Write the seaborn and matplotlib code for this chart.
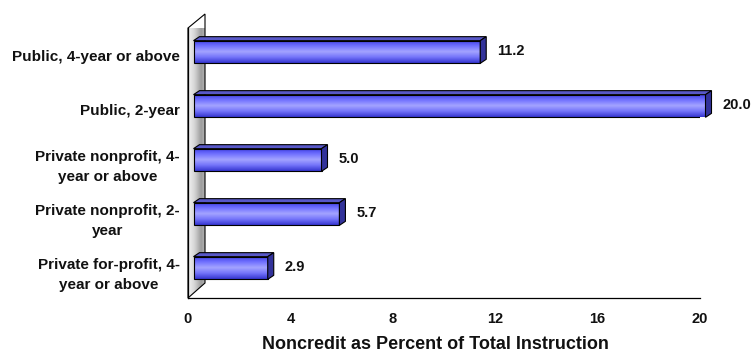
import numpy as np
import pandas as pd
import matplotlib
matplotlib.use("Agg")
import matplotlib.pyplot as plt
import matplotlib.transforms as mtransforms
from matplotlib.colors import LinearSegmentedColormap
from matplotlib.patches import Polygon
import seaborn as sns

categories = ["Public, 4-year or above", "Public, 2-year",
              "Private nonprofit, 4-\nyear or above", "Private nonprofit, 2-\nyear",
              "Private for-profit, 4-\nyear or above"]
values = [11.2, 20.0, 5.0, 5.7, 2.9]
value_labels = ["11.2", "20.0", "5.0", "5.7", "2.9"]
xticks = [0, 4, 8, 12, 16, 20]

sns.set_style("white")
plt.rcParams['font.family'] = ['Liberation Sans', 'DejaVu Sans']

df = pd.DataFrame({'category': categories, 'value': values})

fig = plt.figure(figsize=(7.54, 3.53), dpi=100)
ax = fig.add_axes([188 / 754, 1 - 298 / 353, 512 / 754, 270 / 353])
sns.barplot(data=df, x='value', y='category', orient='h', width=0.42,
            color='#6666ff', edgecolor='black', linewidth=0.8, ax=ax, zorder=3)
ax.set_xlim(0, 20)
ax.set_ylim(4.5, -0.5)

# 3d look: front face shifted, top and side faces added
dx0, dy0 = 5.5, 3
ddx, ddy = 6, 4
tr_front = mtransforms.offset_copy(ax.transData, fig=fig, x=dx0, y=dy0, units='dots')
face_cmap = LinearSegmentedColormap.from_list('face', ['#4040e6', '#7070ff', '#a4a4ff', '#7474fa', '#3636d0'])
grad = np.linspace(0, 1, 64).reshape(-1, 1)
fig.canvas.draw()
for p in ax.patches:
    p.set_transform(tr_front)
    p.set_facecolor('none')
    x0, y0, w, h = p.get_x(), p.get_y(), p.get_width(), p.get_height()
    im = ax.imshow(grad, extent=[x0, x0 + w, y0 + h, y0], transform=tr_front,
                   cmap=face_cmap, aspect='auto', zorder=2, interpolation='bilinear')
    im.set_clip_path(p)
    # corners in display coords
    (xl, yb) = tr_front.transform((x0, y0 + h))
    (xr, yt) = tr_front.transform((x0 + w, y0))
    top = [(xl, yt), (xr, yt), (xr + ddx, yt + ddy), (xl + ddx, yt + ddy)]
    side = [(xr, yt), (xr + ddx, yt + ddy), (xr + ddx, yb + ddy), (xr, yb)]
    for pts, col in [(top, '#5858c8'), (side, '#32329a')]:
        ax.add_patch(Polygon(pts, closed=True, transform=mtransforms.IdentityTransform(),
                             facecolor=col, edgecolor='black', linewidth=0.8,
                             zorder=3, clip_on=False))
ax.set_xlim(0, 20)
ax.set_ylim(4.5, -0.5)

# side wall
wall_tr = mtransforms.IdentityTransform()
(wx0, wy0) = ax.transAxes.transform((0, 0))
(wx1, wy1) = ax.transAxes.transform((0, 1))
wd, wh = 17, 15
wall = Polygon([(wx0, wy0), (wx0 + wd, wy0 + wh), (wx1 + wd, wy1 + 14), (wx1, wy1)],
               closed=True, transform=wall_tr, facecolor='none', edgecolor='black',
               linewidth=0.8, zorder=1, clip_on=False)
ax.add_patch(wall)
wall_cmap = LinearSegmentedColormap.from_list('wall', ['#f2f2f2', '#d4d4d4', '#9c9c9c', '#c4c4c4'])
wim = ax.imshow(np.linspace(0, 1, 32).reshape(1, -1), extent=[0, 0.75, 4.5, -0.6],
                cmap=wall_cmap, aspect='auto', zorder=0.5, interpolation='bilinear')
wim.set_clip_path(wall)
wim.set_clip_on(True)
ax.set_xlim(0, 20)
ax.set_ylim(4.5, -0.5)

for i, (v, lab) in enumerate(zip(values, value_labels)):
    ax.annotate(lab, (v, i), xytext=(dx0 + ddx + 11, 4), textcoords='offset pixels',
                va='center', ha='left', fontsize=10.5, fontweight='bold', color='#111111')

sns.despine(ax=ax, top=True, right=True)
for s in ['left', 'bottom']:
    ax.spines[s].set_color('black')
    ax.spines[s].set_linewidth(0.9)
ax.set_xticks(xticks)
ax.set_xticklabels([str(t) for t in xticks], fontsize=10.5, fontweight='bold', color='#111111')
ax.tick_params(axis='x', direction='out', length=4, width=0.9, color='black', pad=6)
ax.set_yticks(range(len(categories)))
ax.set_yticklabels(categories, fontsize=11, fontweight='bold', color='#111111',
                   ha='right', multialignment='center', linespacing=1.5)
ax.tick_params(axis='y', which='major', length=0, pad=6)
ax.set_yticks(np.arange(-0.5, 5, 1), minor=True)
ax.tick_params(axis='y', which='minor', direction='out', length=4, width=0.9, color='black')
ax.set_ylabel('')
ax.set_xlabel('Noncredit as Percent of Total Instruction', fontsize=13,
              fontweight='bold', color='#111111')
ax.xaxis.set_label_coords(0.484, -0.14)

fig.savefig('out.png', dpi=100)
